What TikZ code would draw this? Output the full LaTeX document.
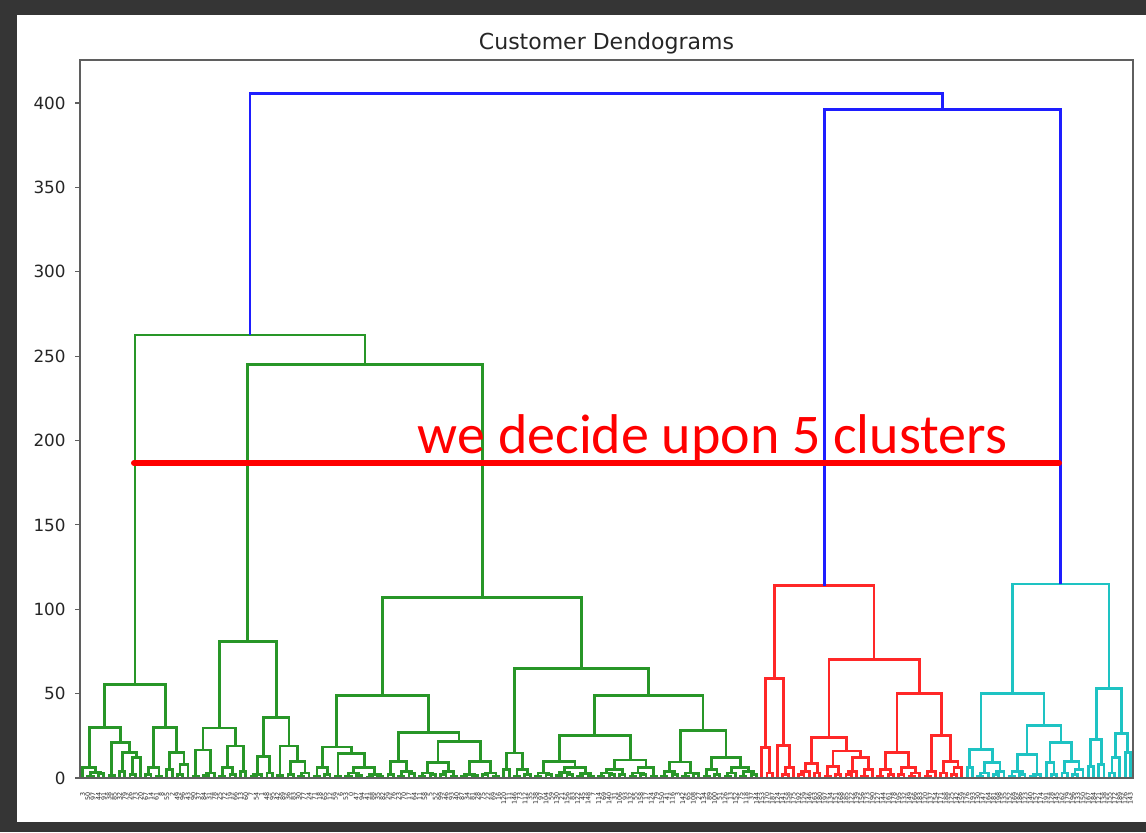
\documentclass[tikz,border=0pt]{standalone}
\usepackage{fontspec}
\setmainfont{DejaVu Sans}
\newfontfamily\annfont{Carlito}
\definecolor{ddgreen}{RGB}{40,150,40}
\definecolor{ddred}{RGB}{255,40,40}
\definecolor{ddcyan}{RGB}{30,195,195}
\definecolor{ddblue}{RGB}{30,30,255}
\definecolor{ddframe}{RGB}{53,53,53}
\definecolor{ddspine}{RGB}{95,95,95}
\definecolor{ddtxt}{RGB}{38,38,38}

\ExplSyntaxOn
\seq_new:N \g__dd_stack_seq
\int_new:N \g__dd_leaf_int
\tl_new:N \l__dd_a_tl
\tl_new:N \l__dd_b_tl
\cs_generate_variant:Nn \seq_gpush:Nn { Nx }
\cs_new_protected:Npn \__dd_draw:nnnnn #1#2#3#4#5
  {
    \draw [ddlink] (#1,#2) -- (#1,#5) -- (#3,#5) -- (#3,#4);
    \seq_gpush:Nx \g__dd_stack_seq { { \fp_eval:n { (#1 + #3) / 2 } } { #5 } }
  }
\cs_generate_variant:Nn \__dd_draw:nnnnn { xxxxn }
\cs_new_protected:Npn \ddleaf
  {
    \seq_gpush:Nx \g__dd_stack_seq
      { { \fp_eval:n { 82.63 + 5.265 * \int_use:N \g__dd_leaf_int } } { 0 } }
    \int_gincr:N \g__dd_leaf_int
  }
\cs_new_protected:Npn \ddjoin #1
  {
    \seq_gpop:NN \g__dd_stack_seq \l__dd_b_tl
    \seq_gpop:NN \g__dd_stack_seq \l__dd_a_tl
    \__dd_draw:xxxxn
      { \tl_item:Nn \l__dd_a_tl { 1 } }
      { \tl_item:Nn \l__dd_a_tl { 2 } }
      { \tl_item:Nn \l__dd_b_tl { 1 } }
      { \tl_item:Nn \l__dd_b_tl { 2 } }
      { #1 }
  }
\ExplSyntaxOff

\newcommand\ddpair[1]{\ddleaf\ddleaf\ddjoin{#1}}
\newcommand\ddtrip[2]{\ddleaf\ddleaf\ddjoin{#1}\ddleaf\ddjoin{#2}}
\newcommand\ddquad[3]{\ddpair{#1}\ddpair{#2}\ddjoin{#3}}
\newcommand\ddsetcol[1]{\gdef\ddcurcolor{#1}}
\def\ddcurcolor{ddgreen}

\tikzset{
  ddlink/.style={line width=1.4pt, draw=\ddcurcolor},
  ticklabel/.style={anchor=east, inner sep=0pt, text=ddtxt, font=\fontsize{8.4}{10}\selectfont},
  leaflabel/.style={rotate=90, anchor=east, inner sep=0pt, text=ddtxt, font=\fontsize{3.2}{3.6}\selectfont},
}

\begin{document}
\begin{tikzpicture}[x=0.5pt,y=-0.5pt]
\useasboundingbox (0,0) rectangle (1146,832);
\fill[ddframe] (0,0) rectangle (1146,832);
\fill[white] (17,15) rectangle (1146,822);

\node[anchor=base, inner sep=0pt, text=ddtxt, font=\fontsize{11}{13}\selectfont] (title) at (606.5,49) {Customer Dendograms};

\begin{scope}[shift={(0pt,-389pt)}, x=0.5pt, y=0.84375pt]
  \foreach \v in {0,50,...,400} {
    \draw[ddspine, line width=0.6pt] (75,\v) -- (80,\v);
    \node[ticklabel] (tick\v) at (66,\v) {\v};
  }
  % ---------------- green ----------------
  \ddsetcol{ddgreen}
  % A
  \ddleaf \ddquad{1}{2.5}{3.5} \ddjoin{6}
  \ddpair{1.5}
    \ddpair{4}
      \ddpair{2} \ddleaf \ddjoin{12}
    \ddjoin{15}
  \ddjoin{21}
  \ddjoin{30}
  \ddquad{2}{1}{6}
  \ddpair{5} \ddtrip{2}{8} \ddjoin{15}
  \ddjoin{30}
  \ddjoin{55.5}
  % B
  \ddpair{0.8} \ddtrip{1.5}{3} \ddjoin{16.6}
  \ddquad{1}{2}{6} \ddpair{4} \ddjoin{19}
  \ddjoin{29.6}
  \ddtrip{1}{2} \ddpair{3} \ddjoin{12.6}
  \ddpair{1.5} \ddpair{2} \ddtrip{1}{3} \ddjoin{10} \ddjoin{19}
  \ddjoin{36}
  \ddjoin{81}
  % C left
  \ddquad{1}{2}{6}
  \ddpair{1} \ddquad{1}{1.5}{3} \ddquad{0.5}{1}{2} \ddjoin{6} \ddjoin{14.5}
  \ddjoin{18.4}
  \ddpair{2} \ddquad{1}{2.5}{4} \ddjoin{9.6}
  \ddquad{1}{2}{3} \ddquad{2}{1}{4} \ddjoin{9}
  \ddquad{1}{1.5}{2} \ddquad{2}{1}{3} \ddjoin{10}
  \ddjoin{21.5}
  \ddjoin{27}
  \ddjoin{49}
  % C right
  \ddpair{5} \ddquad{1}{2}{5} \ddjoin{14.8}
  \ddquad{1}{2}{3} \ddquad{1.5}{2}{3.5} \ddquad{1}{1}{2.5} \ddjoin{6} \ddjoin{9.6}
  \ddquad{1}{2}{3} \ddpair{2} \ddjoin{5} \ddquad{1}{2}{3} \ddpair{1} \ddjoin{6} \ddjoin{10.7}
  \ddjoin{25}
  \ddquad{1}{2}{4} \ddquad{1}{2.5}{3} \ddjoin{9.5}
  \ddquad{1}{2}{5} \ddtrip{1}{3} \ddquad{1}{2}{4} \ddjoin{6} \ddjoin{12}
  \ddjoin{28}
  \ddjoin{49}
  \ddjoin{65}
  \ddjoin{107}
  \ddjoin{245}
  \ddjoin{262.5}
  % ---------------- red ----------------
  \ddsetcol{ddred}
  \ddleaf \ddpair{3} \ddjoin{18}
  \ddleaf \ddtrip{2}{6} \ddjoin{19.5}
  \ddjoin{59}
  \ddtrip{2}{4} \ddpair{3} \ddjoin{8.6}
  \ddquad{1}{2}{7}
  \ddtrip{2}{4} \ddtrip{1}{5} \ddjoin{12}
  \ddjoin{16}
  \ddjoin{24}
  \ddquad{1}{2}{5} \ddpair{2} \ddtrip{1}{3} \ddjoin{6} \ddjoin{15}
  \ddtrip{1}{4} \ddpair{3} \ddtrip{2}{6} \ddjoin{10} \ddjoin{25}
  \ddjoin{50}
  \ddjoin{70}
  \ddjoin{114}
  % ---------------- cyan ----------------
  \ddsetcol{ddcyan}
  \ddpair{6} \ddtrip{1}{3} \ddtrip{2}{4} \ddjoin{9} \ddjoin{17}
  \ddquad{1}{2}{4} \ddtrip{1}{2} \ddjoin{14}
  \ddleaf \ddpair{2} \ddjoin{9} \ddpair{3} \ddtrip{2}{5} \ddjoin{10} \ddjoin{21}
  \ddjoin{31}
  \ddjoin{50}
  \ddpair{7} \ddpair{8} \ddjoin{23}
  \ddtrip{3}{12} \ddpair{15} \ddjoin{26.5}
  \ddjoin{53}
  \ddjoin{115}
  % ---------------- blue ----------------
  \ddsetcol{ddblue}
  \ddjoin{396}
  \ddjoin{405.5}
  % cut line
  \coordinate (cutL) at (134,186.7);
  \coordinate (cutR) at (1059,186.7);
  \draw[red, line width=3pt, line cap=round] (cutL) -- (cutR);
\end{scope}

\draw[ddspine, line width=0.7pt] (80,60) rectangle (1133,778);

\node[anchor=base, inner sep=0pt, text=red, font=\annfont\fontsize{28}{30}\selectfont] (ann) at (712.5,453) {we decide upon 5 clusters};

\foreach \i in {0,...,199} {
  \pgfmathtruncatemacro\lab{ifthenelse(\i<80, mod(\i*47+3,100), ifthenelse(\i<129, ifthenelse(mod(\i,2)==0, 100+mod(\i*13,60), mod(\i*31,100)), 120+mod(\i*17,80)))}
  \node[leaflabel] (leaf\i) at ({82.63+5.265*\i},792) {\lab};
}
\end{tikzpicture}
\end{document}
